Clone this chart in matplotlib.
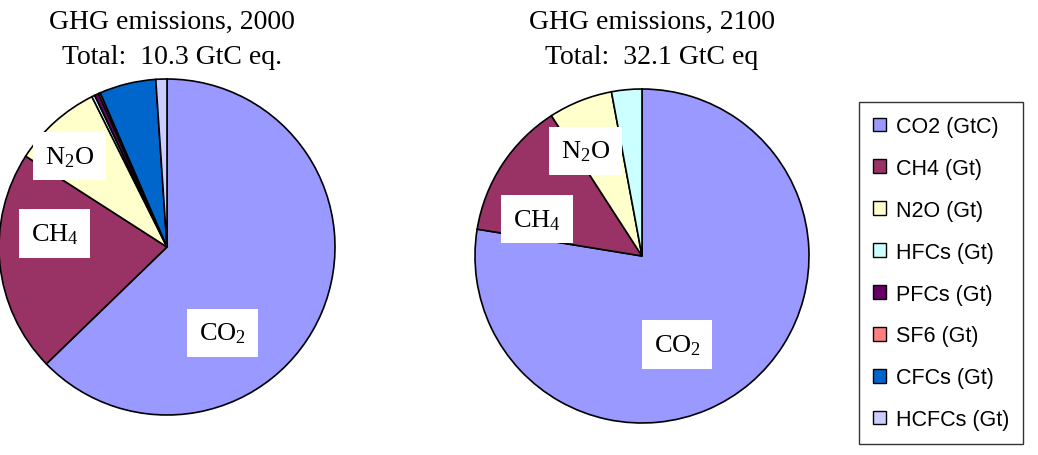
import matplotlib
matplotlib.use('Agg')
import matplotlib.pyplot as plt
from matplotlib.patches import Patch

plt.rcParams['mathtext.fontset'] = 'custom'
plt.rcParams['mathtext.rm'] = 'Liberation Serif'
plt.rcParams['mathtext.it'] = 'Liberation Serif'

# Gas categories, legend labels and colours
gases = ['CO2', 'CH4', 'N2O', 'HFCs', 'PFCs', 'SF6', 'CFCs', 'HCFCs']
legend_labels = ['CO2 (GtC)', 'CH4 (Gt)', 'N2O (Gt)', 'HFCs (Gt)',
                 'PFCs (Gt)', 'SF6 (Gt)', 'CFCs (Gt)', 'HCFCs (Gt)']
gas_colors = ['#9999FF', '#993366', '#FFFFCC', '#CCFFFF',
              '#660066', '#FF8080', '#0066CC', '#CCCCFF']

# Emissions in GtC eq.
emis_2000 = [6.47, 2.20, 0.88, 0.03, 0.04, 0.02, 0.56, 0.11]
emis_2100 = [24.90, 4.27, 1.99, 0.94, 0.0, 0.0, 0.0, 0.0]

titles = [('GHG emissions, 2000', 'Total:  10.3 GtC eq.'),
          ('GHG emissions, 2100', 'Total:  32.1 GtC eq')]

W, H = 1038, 456
fig = plt.figure(figsize=(W / 100, H / 100), dpi=100)


def px_axes(cx, cy, r):
    '''Axes (in pixel coords, y from top) holding a pie of radius r centred at cx, cy.'''
    ax = fig.add_axes([(cx - r) / W, (H - cy - r) / H, 2 * r / W, 2 * r / H])
    ax.axis('off')
    return ax


def draw_pie(ax, values, labels_pos):
    vals = [v for v in values if v > 0]
    cols = [c for v, c in zip(values, gas_colors) if v > 0]
    ax.pie(vals, colors=cols, startangle=90, counterclock=False, radius=1,
           wedgeprops=dict(edgecolor='black', linewidth=1.2))
    ax.set_xlim(-1.0, 1.0)
    ax.set_ylim(-1.0, 1.0)
    for txt, (x, y) in labels_pos.items():
        ax.text(x, y, txt, ha='center', va='center', fontsize=19,
                family='Liberation Serif',
                bbox=dict(boxstyle='square,pad=0.45', fc='white', ec='none'))


ax1 = px_axes(167, 248, 168)
draw_pie(ax1, emis_2000, {r'N$_2$O': (-0.58, 0.54),
                          r'CH$_4$': (-0.67, 0.08),
                          r'CO$_2$': (0.33, -0.51)})

ax2 = px_axes(642, 257, 167)
draw_pie(ax2, emis_2100, {r'N$_2$O': (-0.34, 0.63),
                          r'CH$_4$': (-0.63, 0.22),
                          r'CO$_2$': (0.21, -0.53)})

for (line1, line2), xc in zip(titles, [172, 652]):
    fig.text(xc / W, 1 - 22 / H, line1, ha='center', va='center', fontsize=20,
             family='Liberation Serif')
    fig.text(xc / W, 1 - 58 / H, line2, ha='center', va='center', fontsize=20,
             family='Liberation Serif')

handles = [Patch(facecolor=c, edgecolor='black', linewidth=1.0) for c in gas_colors]
leg = fig.legend(handles, legend_labels, loc='upper left',
                 bbox_to_anchor=(859 / W, 1 - 103 / H),
                 prop={'family': 'Liberation Sans', 'size': 15.5},
                 frameon=True, fancybox=False, edgecolor='black',
                 handlelength=0.6, handleheight=0.6, handletextpad=0.45,
                 labelspacing=0.97, borderpad=0.65, borderaxespad=0)
leg.get_frame().set_linewidth(1.0)

fig.savefig('out.png', dpi=100)
